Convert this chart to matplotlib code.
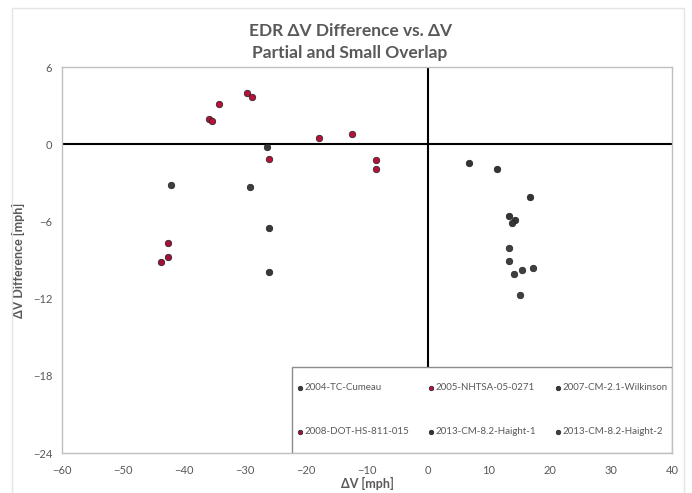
import matplotlib.pyplot as plt
from matplotlib.patches import Rectangle

plt.rcParams['font.family'] = ['Lato', 'DejaVu Sans']

# test series: delta-V [mph] and EDR delta-V difference [mph]
tc_cumeau_dv = [-42.2, -29.1]
tc_cumeau_diff = [-3.15, -3.33]

nhtsa_dv = [-29.7, -28.9, -34.3, -35.9, -35.4, -17.8, -12.5, -26.0, -8.6, -8.6]
nhtsa_diff = [4.0, 3.69, 3.10, 1.98, 1.78, 0.48, 0.79, -1.13, -1.20, -1.93]

wilkinson_dv = [-26.4, -26.0, -26.0]
wilkinson_diff = [-0.24, -6.49, -9.91]

dot_dv = [-42.7, -42.7, -43.7]
dot_diff = [-7.70, -8.74, -9.13]

haight1_dv = [6.8, 11.3, 16.7, 13.2, 14.3, 13.8]
haight1_diff = [-1.44, -1.90, -4.10, -5.60, -5.91, -6.12]

haight2_dv = [13.2, 13.2, 15.4, 17.2, 14.1, 15.0]
haight2_diff = [-8.09, -9.08, -9.77, -9.64, -10.09, -11.74]

series = [
    ('2004-TC-Cumeau', tc_cumeau_dv, tc_cumeau_diff, '#3f3f3f'),
    ('2005-NHTSA-05-0271', nhtsa_dv, nhtsa_diff, '#b5123c'),
    ('2007-CM-2.1-Wilkinson', wilkinson_dv, wilkinson_diff, '#383838'),
    ('2008-DOT-HS-811-015', dot_dv, dot_diff, '#a3103a'),
    ('2013-CM-8.2-Haight-1', haight1_dv, haight1_diff, '#353535'),
    ('2013-CM-8.2-Haight-2', haight2_dv, haight2_diff, '#404040'),
]

x_ticks = [-60, -50, -40, -30, -20, -10, 0, 10, 20, 30, 40]
y_ticks = [6, 0, -6, -12, -18, -24]

grey = '#595959'

fig = plt.figure(figsize=(6.92, 4.93), dpi=100)
ax = fig.add_axes([62 / 692, 40 / 493, 610 / 692, 386 / 493])

# faint chart-area border
fig.patches.append(Rectangle((12 / 692, -0.01), 672 / 692, 1 - 8 / 493 + 0.01,
                             transform=fig.transFigure, fill=False,
                             edgecolor='#e4e4e4', linewidth=1))

ax.axhline(0, color='black', linewidth=1.5, zorder=1)
ax.axvline(0, color='black', linewidth=1.5, zorder=1)

handles = {}
for label, xs, ys, color in series:
    handles[label] = ax.scatter(xs, ys, s=22, color=color, edgecolors='#202020',
                                linewidths=0.5, label=label, zorder=3)

ax.set_xlim(-60, 40)
ax.set_ylim(-24, 6)
ax.set_xticks(x_ticks)
ax.set_yticks(y_ticks)
ax.tick_params(length=0, labelsize=8, labelcolor=grey)
ax.tick_params(axis='x', pad=9)
ax.tick_params(axis='y', pad=7)

for side in ax.spines.values():
    side.set_color('#bfbfbf')
    side.set_linewidth(1)

ax.set_xlabel('ΔV [mph]', fontsize=9, fontweight='bold', color=grey, labelpad=0)
ax.set_ylabel('ΔV Difference [mph]', fontsize=9, fontweight='bold', color=grey, labelpad=6)

fig.text(0.506, 1 - 31 / 493, 'EDR ΔV Difference vs. ΔV', ha='center', va='center',
         fontsize=12.5, fontweight='bold', color=grey)
fig.text(0.506, 1 - 53 / 493, 'Partial and Small Overlap', ha='center', va='center',
         fontsize=12.5, fontweight='bold', color=grey)

# legend box in the lower right corner of the plot
ax.add_patch(Rectangle((230 / 610, 0), 380 / 610, 86 / 386, transform=ax.transAxes,
                       facecolor='white', edgecolor='#8c8c8c', linewidth=1, zorder=4))

# row-wise order: matplotlib fills legend columns first
order = ['2004-TC-Cumeau', '2008-DOT-HS-811-015',
         '2005-NHTSA-05-0271', '2013-CM-8.2-Haight-1',
         '2007-CM-2.1-Wilkinson', '2013-CM-8.2-Haight-2']
leg = ax.legend([handles[k] for k in order], order, loc='center',
                bbox_to_anchor=(234 / 610, 43 / 386, 372 / 610, 0.0),
                mode='expand', ncol=3, fontsize=7, frameon=False,
                borderaxespad=0, borderpad=0, labelspacing=3.6, handletextpad=0.1,
                handlelength=0.8, markerscale=0.7, columnspacing=0.8)
leg.set_zorder(5)
for text in leg.get_texts():
    text.set_color(grey)

fig.savefig('out.png', dpi=100)
